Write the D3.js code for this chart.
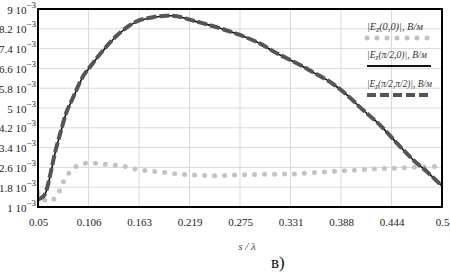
<!DOCTYPE html>
<html><head><meta charset="utf-8">
<script src="https://cdn.jsdelivr.net/npm/d3@7"></script>
<style>
html,body{margin:0;padding:0;background:#fff;}
svg{display:block;}
svg text{font-family:"Liberation Serif","Times New Roman",serif;}
</style></head>
<body><svg id="c" width="450" height="273"></svg>
<script>
// ---- data (values in units of 1e-3 B/m) ----
const xTicks = [0.05, 0.10625, 0.1625, 0.21875, 0.275, 0.33125, 0.3875, 0.44375, 0.5];
const xTickLabels = ["0.05","0.106","0.163","0.219","0.275","0.331","0.388","0.444","0.5"];
const yTicks = [1, 1.8, 2.6, 3.4, 4.2, 5, 5.8, 6.6, 7.4, 8.2, 9];
const yTickLabels = ["1","1.8","2.6","3.4","4.2","5","5.8","6.6","7.4","8.2","9"];

const sLine = [0.050,0.056,0.059,0.063,0.069,0.076,0.082,0.089,0.100,0.110,0.123,0.141,0.160,0.178,0.193,0.205,0.219,0.234,0.253,0.275,0.297,0.316,0.342,0.356,0.375,0.394,0.412,0.431,0.450,0.468,0.483,0.500];
const ezHalfPi0 = [1.28,1.42,1.62,2.17,3.18,4.11,4.85,5.40,6.26,6.75,7.34,8.02,8.49,8.66,8.72,8.71,8.56,8.42,8.22,7.95,7.61,7.21,6.74,6.45,6.06,5.53,4.92,4.31,3.57,2.90,2.43,1.85];
const ezHalfPiHalfPi = [1.30,1.43,1.64,2.20,3.20,4.13,4.86,5.42,6.27,6.76,7.35,8.03,8.50,8.67,8.73,8.71,8.57,8.42,8.22,7.95,7.61,7.21,6.74,6.45,6.06,5.53,4.92,4.31,3.57,2.90,2.43,1.85];

const sDot = [0.050,0.061,0.071,0.077,0.085,0.094,0.104,0.115,0.125,0.135,0.145,0.156,0.167,0.177,0.187,0.197,0.207,0.217,0.228,0.239,0.249,0.259,0.269,0.280,0.290,0.300,0.310,0.321,0.331,0.341,0.360,0.380,0.400,0.420,0.440,0.460,0.480,0.500];
const ez00 = [1.58,1.22,1.44,1.93,2.39,2.67,2.77,2.77,2.73,2.69,2.65,2.55,2.49,2.44,2.41,2.36,2.33,2.31,2.29,2.27,2.26,2.27,2.29,2.30,2.31,2.32,2.32,2.33,2.33,2.35,2.40,2.44,2.48,2.53,2.56,2.59,2.62,2.64];

const legendLabels = [
  {pre:"|E", sub:"z", post:"(0,0)|, B/м"},
  {pre:"|E", sub:"z", post:"(π/2,0)|, B/м"},
  {pre:"|E", sub:"z", post:"(π/2,π/2)|, B/м"}
];

// ---- layout ----
const L = 38, R = 442, T = 9, B = 207;
const svg = d3.select("#c");
const x = d3.scaleLinear().domain([0.05, 0.5]).range([L, R]);
const y = d3.scaleLinear().domain([1, 9]).range([B, T]);

// grid
const g = svg.append("g");
g.selectAll("line.vg").data(xTicks.slice(1,-1)).join("line")
  .attr("x1", d=>x(d)).attr("x2", d=>x(d)).attr("y1", T).attr("y2", B)
  .attr("stroke", "#d9d9d9").attr("stroke-width", 1);
g.selectAll("line.hg").data(yTicks.slice(1,-1)).join("line")
  .attr("y1", d=>y(d)).attr("y2", d=>y(d)).attr("x1", L).attr("x2", R)
  .attr("stroke", "#d9d9d9").attr("stroke-width", 1);

// axes
const xAxis = d3.axisBottom(x).tickValues(xTicks).tickSize(0).tickPadding(11)
  .tickFormat((d,i)=>xTickLabels[i]);
const xa = svg.append("g").attr("transform", `translate(0,${B})`).call(xAxis);
xa.select(".domain").remove();
xa.attr("font-family", null);
xa.selectAll("text").attr("font-size", 11).attr("fill","#222");

const yAxis = d3.axisLeft(y).tickValues(yTicks).tickSize(0).tickPadding(2).tickFormat("");
const ya = svg.append("g").attr("transform", `translate(${L},0)`).call(yAxis);
ya.select(".domain").remove();
ya.attr("font-family", null);
ya.selectAll(".tick").each(function(d,i){
  const t = d3.select(this).append("text")
    .attr("x", -2).attr("dy", "0.38em").attr("text-anchor","end")
    .attr("font-size", 11).attr("fill","#222");
  t.append("tspan").text(yTickLabels[i] + " 10");
  t.append("tspan").attr("dy", -6).attr("font-size", 9).text("−3");
});

// series
const lineGen = (arr, xs) => d3.line().x((d,i)=>x(xs[i])).y(d=>y(d)).curve(d3.curveCatmullRom.alpha(0.5))(arr);
svg.append("clipPath").attr("id","pc").append("rect").attr("x",L).attr("y",T).attr("width",R-L).attr("height",B-T);
const pg = svg.append("g").attr("clip-path","url(#pc)");
pg.append("path").attr("d", lineGen(ez00, sDot)).attr("fill","none")
  .attr("stroke","#c3c3c3").attr("stroke-width",5).attr("stroke-linecap","round").attr("stroke-dasharray","0 10");
pg.append("path").attr("d", lineGen(ezHalfPi0, sLine)).attr("fill","none")
  .attr("stroke","#111").attr("stroke-width",1.6);
pg.append("path").attr("d", lineGen(ezHalfPiHalfPi, sLine)).attr("fill","none")
  .attr("stroke","#555").attr("stroke-width",4).attr("stroke-dasharray","10 3");

// frame
svg.append("rect").attr("x",L).attr("y",T).attr("width",R-L).attr("height",B-T)
  .attr("fill","none").attr("stroke","#000").attr("stroke-width",2);

// legend
const lx = 367, lw = 64;
const legY = [30, 58, 87];
const symY = [38, 66, 95];
const legW = [56, 60, 65];
legendLabels.forEach((lab,i)=>{
  const t = svg.append("text").attr("x", lx).attr("y", legY[i])
    .attr("font-style","italic").attr("font-size",11).attr("fill","#333")
    .attr("textLength", legW[i]).attr("lengthAdjust","spacingAndGlyphs");
  t.append("tspan").text(lab.pre);
  t.append("tspan").attr("dy",2).attr("font-size",8).text(lab.sub);
  t.append("tspan").attr("dy",-2).text(lab.post);
});
svg.append("line").attr("x1",lx).attr("x2",lx+lw).attr("y1",symY[0]).attr("y2",symY[0])
  .attr("stroke","#c3c3c3").attr("stroke-width",5).attr("stroke-linecap","round").attr("stroke-dasharray","0 10");
svg.append("line").attr("x1",lx).attr("x2",lx+lw).attr("y1",symY[1]).attr("y2",symY[1])
  .attr("stroke","#111").attr("stroke-width",2);
svg.append("line").attr("x1",lx).attr("x2",lx+lw).attr("y1",symY[2]).attr("y2",symY[2])
  .attr("stroke","#555").attr("stroke-width",4).attr("stroke-dasharray","9 4");

// axis title and caption
svg.append("text").attr("x",247).attr("y",250).attr("text-anchor","middle")
  .attr("font-style","italic").attr("font-size",11).attr("fill","#444").text("s / λ");
svg.append("text").attr("x",271).attr("y",268)
  .attr("font-size",17).attr("fill","#111").text("в)");
</script></body></html>
